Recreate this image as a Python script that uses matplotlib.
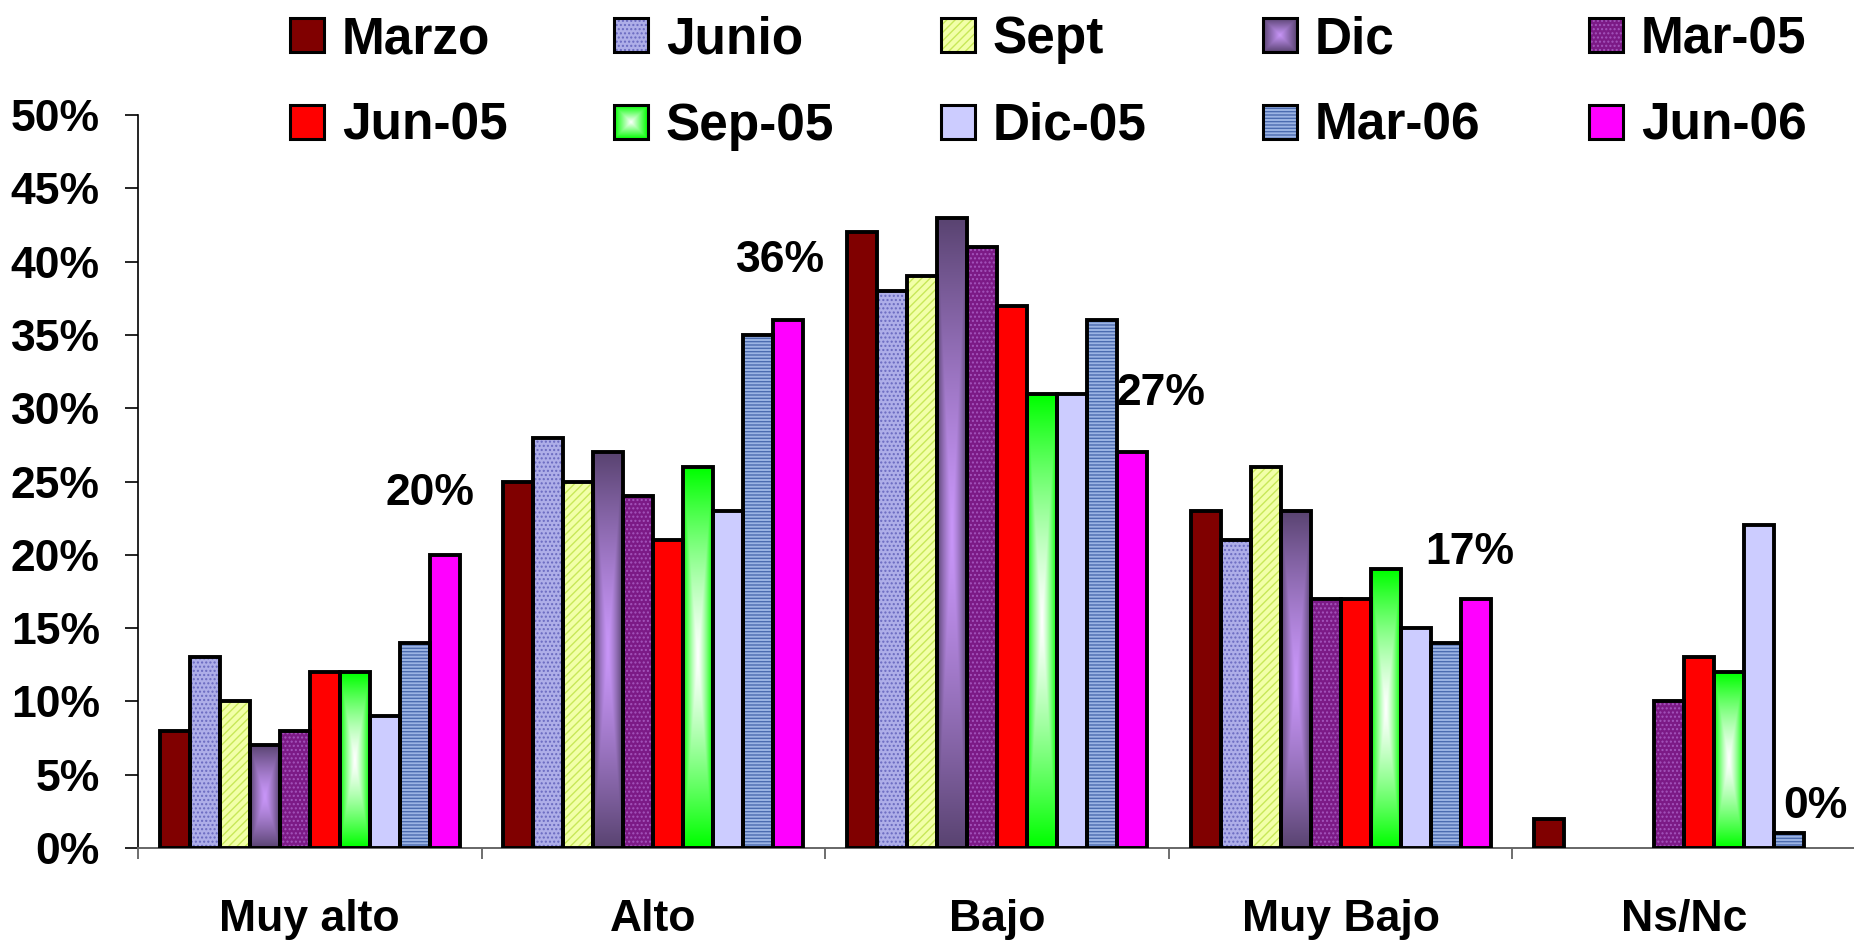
import numpy as np
import matplotlib
matplotlib.use("Agg")
import matplotlib.pyplot as plt
from matplotlib.patches import Rectangle
from matplotlib.colors import to_rgb

plt.rcParams['font.family'] = ['Liberation Sans', 'DejaVu Sans']
plt.rcParams['font.weight'] = 'bold'
plt.rcParams['hatch.linewidth'] = 1.0

categories = ["Muy alto", "Alto", "Bajo", "Muy Bajo", "Ns/Nc"]
series = ["Marzo", "Junio", "Sept", "Dic", "Mar-05",
          "Jun-05", "Sep-05", "Dic-05", "Mar-06", "Jun-06"]

marzo  = [8, 25, 42, 23, 2]
junio  = [13, 28, 38, 21, 0]
sept   = [10, 25, 39, 26, 0]
dic    = [7, 27, 43, 23, 0]
mar05  = [8, 24, 41, 17, 10]
jun05  = [12, 21, 37, 17, 13]
sep05  = [12, 26, 31, 19, 12]
dic05  = [9, 23, 31, 15, 22]
mar06  = [14, 35, 36, 14, 1]
jun06  = [20, 36, 27, 17, 0]
values = [marzo, junio, sept, dic, mar05, jun05, sep05, dic05, mar06, jun06]

yticks = [0, 5, 10, 15, 20, 25, 30, 35, 40, 45, 50]

# styles: (face, hatch, hatch colour, gradient(inner, outer) or None)
styles = [
    ("#800000", None, None, None),
    ("#aeaee8", "....", "#6a6ac0", None),
    ("#f2ffa8", "////", "#c8e858", None),
    ("#7e62a0", None, None, ("#c896f8", "#5a4472")),
    ("#7c1a86", "....", "#a455bc", None),
    ("#ff0000", None, None, None),
    ("#66ff66", None, None, ("#ffffff", "#00ff00")),
    ("#ccccff", None, None, None),
    ("#9cb4e4", "-----", "#4c6cb0", None),
    ("#ff00ff", None, None, None),
]

# data-label offsets (points) for the Jun-06 labels
label_offsets = [(-11, 44), (-6, 43), (21, 42), (-4, 33), (-3, 30)]


def grad_img(inner, outer, gamma=1.3, n=80):
    u = np.linspace(-1, 1, n)
    U, V = np.meshgrid(u, u)
    t = np.maximum(np.abs(U), np.abs(V)) ** gamma
    a = np.array(to_rgb(inner))
    b = np.array(to_rgb(outer))
    return a[None, None, :] * (1 - t[..., None]) + b[None, None, :] * t[..., None]


W, H = 1854, 942
fig = plt.figure(figsize=(W / 100, H / 100), dpi=100)
ax = fig.add_axes([138 / W, (H - 848) / H, (W + 2 - 138) / W, (848 - 115) / H])

x = np.arange(len(categories))
bw = 0.0873
for i, (name, vals) in enumerate(zip(series, values)):
    face, hatch, hcol, grad = styles[i]
    pos = x + (i - 4.5) * bw
    if hatch:
        base = ax.bar(pos, vals, bw, color=face, edgecolor=hcol, linewidth=0,
                      hatch=hatch, zorder=2)
    else:
        base = ax.bar(pos, vals, bw, color=face, linewidth=0, zorder=2)
    if grad:
        img = grad_img(*grad)
        for p, v in zip(base.patches, vals):
            if v <= 0:
                continue
            x0 = p.get_x()
            im = ax.imshow(img, extent=(x0, x0 + bw, 0, v), aspect='auto',
                           interpolation='bilinear', zorder=2.5)
            im.set_clip_path(p)
    for p, v in zip(base.patches, vals):
        if v > 0:
            ax.add_patch(Rectangle((p.get_x(), 0), bw, v, fill=False,
                                   edgecolor='black', linewidth=2.8, zorder=3))

# labels for last series
for k, v in enumerate(jun06):
    cx = x[k] + 4.5 * bw
    ax.annotate(f"{v}%", xy=(cx, v), xytext=label_offsets[k],
                textcoords='offset points', ha='center', va='center',
                fontsize=32, fontweight='bold', zorder=5)

ax.set_xlim(-0.5, 4.5)
ax.set_ylim(0, 50)
ax.set_yticks(yticks)
ax.set_yticklabels([f"{t}%" for t in yticks])
ax.set_xticks(np.arange(-0.5, 5.0, 1.0))
ax.set_xticklabels([])
ax.set_xticks(x, minor=True)
ax.set_xticklabels(categories, minor=True)
ax.tick_params(axis='y', direction='out', length=9.5, width=1.2, pad=18,
               labelsize=32, color='black')
ax.tick_params(axis='x', which='major', direction='out', length=8, width=1.2,
               color='#555555')
ax.tick_params(axis='x', which='minor', length=0, pad=37, labelsize=32)
for lab in ax.get_xticklabels(minor=True) + ax.get_yticklabels():
    lab.set_fontweight('bold')
ax.spines['top'].set_visible(False)
ax.spines['right'].set_visible(False)
ax.spines['left'].set_linewidth(1.2)
ax.spines['bottom'].set_linewidth(1.4)
ax.spines['bottom'].set_color('#666666')
ax.set_facecolor('none')

# legend drawn in a pixel-coordinate overlay
lax = fig.add_axes([0, 0, 1, 1])
lax.set_xlim(0, W)
lax.set_ylim(H, 0)
lax.axis('off')
col_x = [290, 614, 941, 1263, 1589]
row_y = [35, 122]
sq = 34
for i, name in enumerate(series):
    face, hatch, hcol, grad = styles[i]
    r, c = divmod(i, 5)
    x0 = col_x[c]
    y0 = row_y[r] - sq / 2
    if hatch:
        rect = Rectangle((x0, y0), sq, sq, facecolor=face, edgecolor=hcol,
                         linewidth=0, hatch=hatch, zorder=2)
    else:
        rect = Rectangle((x0, y0), sq, sq, facecolor=face, linewidth=0, zorder=2)
    lax.add_patch(rect)
    if grad:
        im = lax.imshow(grad_img(*grad, gamma=1.0), extent=(x0, x0 + sq, y0 + sq, y0),
                        aspect='auto', interpolation='bilinear', zorder=2.5)
        im.set_clip_path(rect)
    lax.add_patch(Rectangle((x0, y0), sq, sq, fill=False, edgecolor='black',
                            linewidth=2.2, zorder=3))
    lax.text(x0 + 52, row_y[r] - 1, name, fontsize=37, fontweight='bold',
             ha='left', va='center_baseline')
lax.set_xlim(0, W)
lax.set_ylim(H, 0)

fig.savefig("out.png", dpi=100)
